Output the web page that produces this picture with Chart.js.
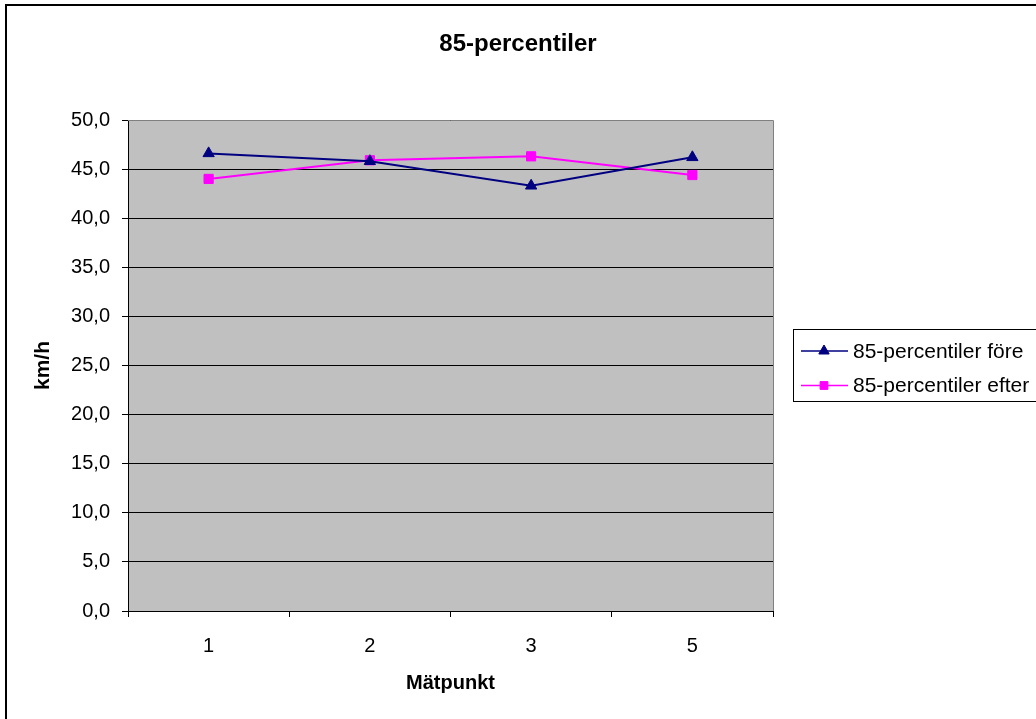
<!DOCTYPE html>
<html>
<head>
<meta charset="utf-8">
<title>85-percentiler</title>
<script src="https://cdn.jsdelivr.net/npm/chart.js@4/dist/chart.umd.min.js"></script>
<style>
  html, body { margin: 0; padding: 0; background: #fff; }
  #wrap { width: 1036px; height: 719px; position: relative; }
</style>
</head>
<body>
<div id="wrap"><canvas id="c" width="1036" height="719"></canvas></div>
<script>
// Measuring points and 85th-percentile speeds (km/h) before and after
const categories = ['1', '2', '3', '5'];
const foreValues = [46.6, 45.8, 43.3, 46.2];
const efterValues = [44.0, 45.9, 46.3, 44.4];
const seriesNames = ['85-percentiler före', '85-percentiler efter'];
const chartTitle = '85-percentiler';
const xTitle = 'Mätpunkt';
const yTitle = 'km/h';
const yMin = 0, yMax = 50, yStep = 5;

const FONT = "'Liberation Sans', Arial, sans-serif";

// Grey plot background, frame around the whole chart, plot edges and title
const framePlugin = {
  id: 'frame',
  beforeDraw(chart) {
    const { ctx, chartArea: a } = chart;
    ctx.save();
    ctx.fillStyle = '#ffffff';
    ctx.fillRect(0, 0, chart.width, chart.height);
    ctx.fillStyle = '#c0c0c0';
    ctx.fillRect(a.left, a.top, a.right - a.left, a.bottom - a.top);
    ctx.restore();
  },
  afterDraw(chart) {
    const { ctx, chartArea: a } = chart;
    ctx.save();
    // plot area top and right edges
    ctx.strokeStyle = '#808080';
    ctx.lineWidth = 1;
    ctx.beginPath();
    ctx.moveTo(a.left, a.top + 0.5);
    ctx.lineTo(a.right + 0.5, a.top + 0.5);
    ctx.lineTo(a.right + 0.5, a.bottom);
    ctx.stroke();
    // outer chart border
    ctx.strokeStyle = '#000';
    ctx.lineWidth = 2;
    ctx.strokeRect(6, 5, chart.width + 20, chart.height + 20);
    // chart title, centred on the whole canvas
    ctx.fillStyle = '#000';
    ctx.font = 'bold 24px ' + FONT;
    ctx.textAlign = 'center';
    ctx.textBaseline = 'middle';
    ctx.fillText(chartTitle, chart.width / 2, 44);
    ctx.restore();
  }
};

// Boxed legend to the right of the plot area
const boxLegendPlugin = {
  id: 'boxLegend',
  afterDraw(chart) {
    const { ctx } = chart;
    const x0 = 793, y0 = 329, h = 72;
    ctx.save();
    ctx.fillStyle = '#fff';
    ctx.fillRect(x0, y0, chart.width - x0 + 20, h);
    ctx.strokeStyle = '#000';
    ctx.lineWidth = 1;
    ctx.strokeRect(x0 + 0.5, y0 + 0.5, chart.width - x0 + 20, h);
    const rows = [351, 385.5];
    const legendRadius = [6, 5.5];
    chart.data.datasets.forEach((ds, i) => {
      const y = rows[i];
      ctx.strokeStyle = ds.borderColor;
      ctx.lineWidth = 1.5;
      ctx.beginPath();
      ctx.moveTo(801, y);
      ctx.lineTo(848, y);
      ctx.stroke();
      ctx.fillStyle = ds.pointBackgroundColor;
      ctx.strokeStyle = ds.pointBorderColor;
      ctx.lineWidth = 1;
      Chart.helpers.drawPoint(ctx, {
        pointStyle: ds.pointStyle,
        radius: legendRadius[i],
        borderWidth: 1,
        rotation: 0
      }, 824, y);
      ctx.fillStyle = '#000';
      ctx.font = '21px ' + FONT;
      ctx.textBaseline = 'middle';
      ctx.textAlign = 'left';
      ctx.fillText(ds.label, 853, y + 1);
    });
    ctx.restore();
  }
};

new Chart(document.getElementById('c'), {
  type: 'line',
  data: {
    labels: categories,
    datasets: [
      {
        label: seriesNames[0],
        data: foreValues,
        borderColor: '#000080',
        backgroundColor: '#000080',
        pointBackgroundColor: '#000080',
        pointBorderColor: '#000080',
        pointStyle: 'triangle',
        pointRadius: 6.5,
        pointBorderWidth: 1,
        borderWidth: 2,
        tension: 0
      },
      {
        label: seriesNames[1],
        data: efterValues,
        borderColor: '#ff00ff',
        backgroundColor: '#ff00ff',
        pointBackgroundColor: '#ff00ff',
        pointBorderColor: '#ff00ff',
        pointStyle: 'rect',
        pointRadius: 6.5,
        pointBorderWidth: 1,
        borderWidth: 2,
        tension: 0
      }
    ]
  },
  options: {
    responsive: false,
    animation: false,
    layout: { padding: { top: 120, left: 0, right: 263, bottom: 0 } },
    plugins: {
      legend: { display: false },
      tooltip: { enabled: false },
      title: { display: false }
    },
    scales: {
      x: {
        offset: true,
        afterFit(scale) { scale.height = 108; },
        grid: {
          offset: true,
          drawOnChartArea: false,
          drawTicks: true,
          tickLength: 6,
          color: '#000'
        },
        border: { display: true, color: '#000', width: 1 },
        ticks: {
          color: '#000',
          padding: 17,
          maxRotation: 0,
          font: { family: FONT, size: 20 }
        },
        title: {
          display: true,
          text: xTitle,
          color: '#000',
          font: { family: FONT, size: 20, weight: 'bold' },
          padding: { top: 0, bottom: 24 }
        }
      },
      y: {
        min: yMin,
        max: yMax,
        afterFit(scale) { scale.width = 128; },
        grid: {
          color: '#000',
          lineWidth: 1,
          drawTicks: true,
          tickLength: 6
        },
        border: { display: true, color: '#000', width: 1 },
        ticks: {
          stepSize: yStep,
          color: '#000',
          padding: 12,
          font: { family: FONT, size: 20 },
          callback: (v) => Number(v).toFixed(1).replace('.', ',')
        },
        title: {
          display: true,
          text: yTitle,
          color: '#000',
          font: { family: FONT, size: 21, weight: 'bold' },
          padding: { top: 31, bottom: 0 }
        }
      }
    }
  },
  plugins: [framePlugin, boxLegendPlugin]
});
</script>
</body>
</html>
